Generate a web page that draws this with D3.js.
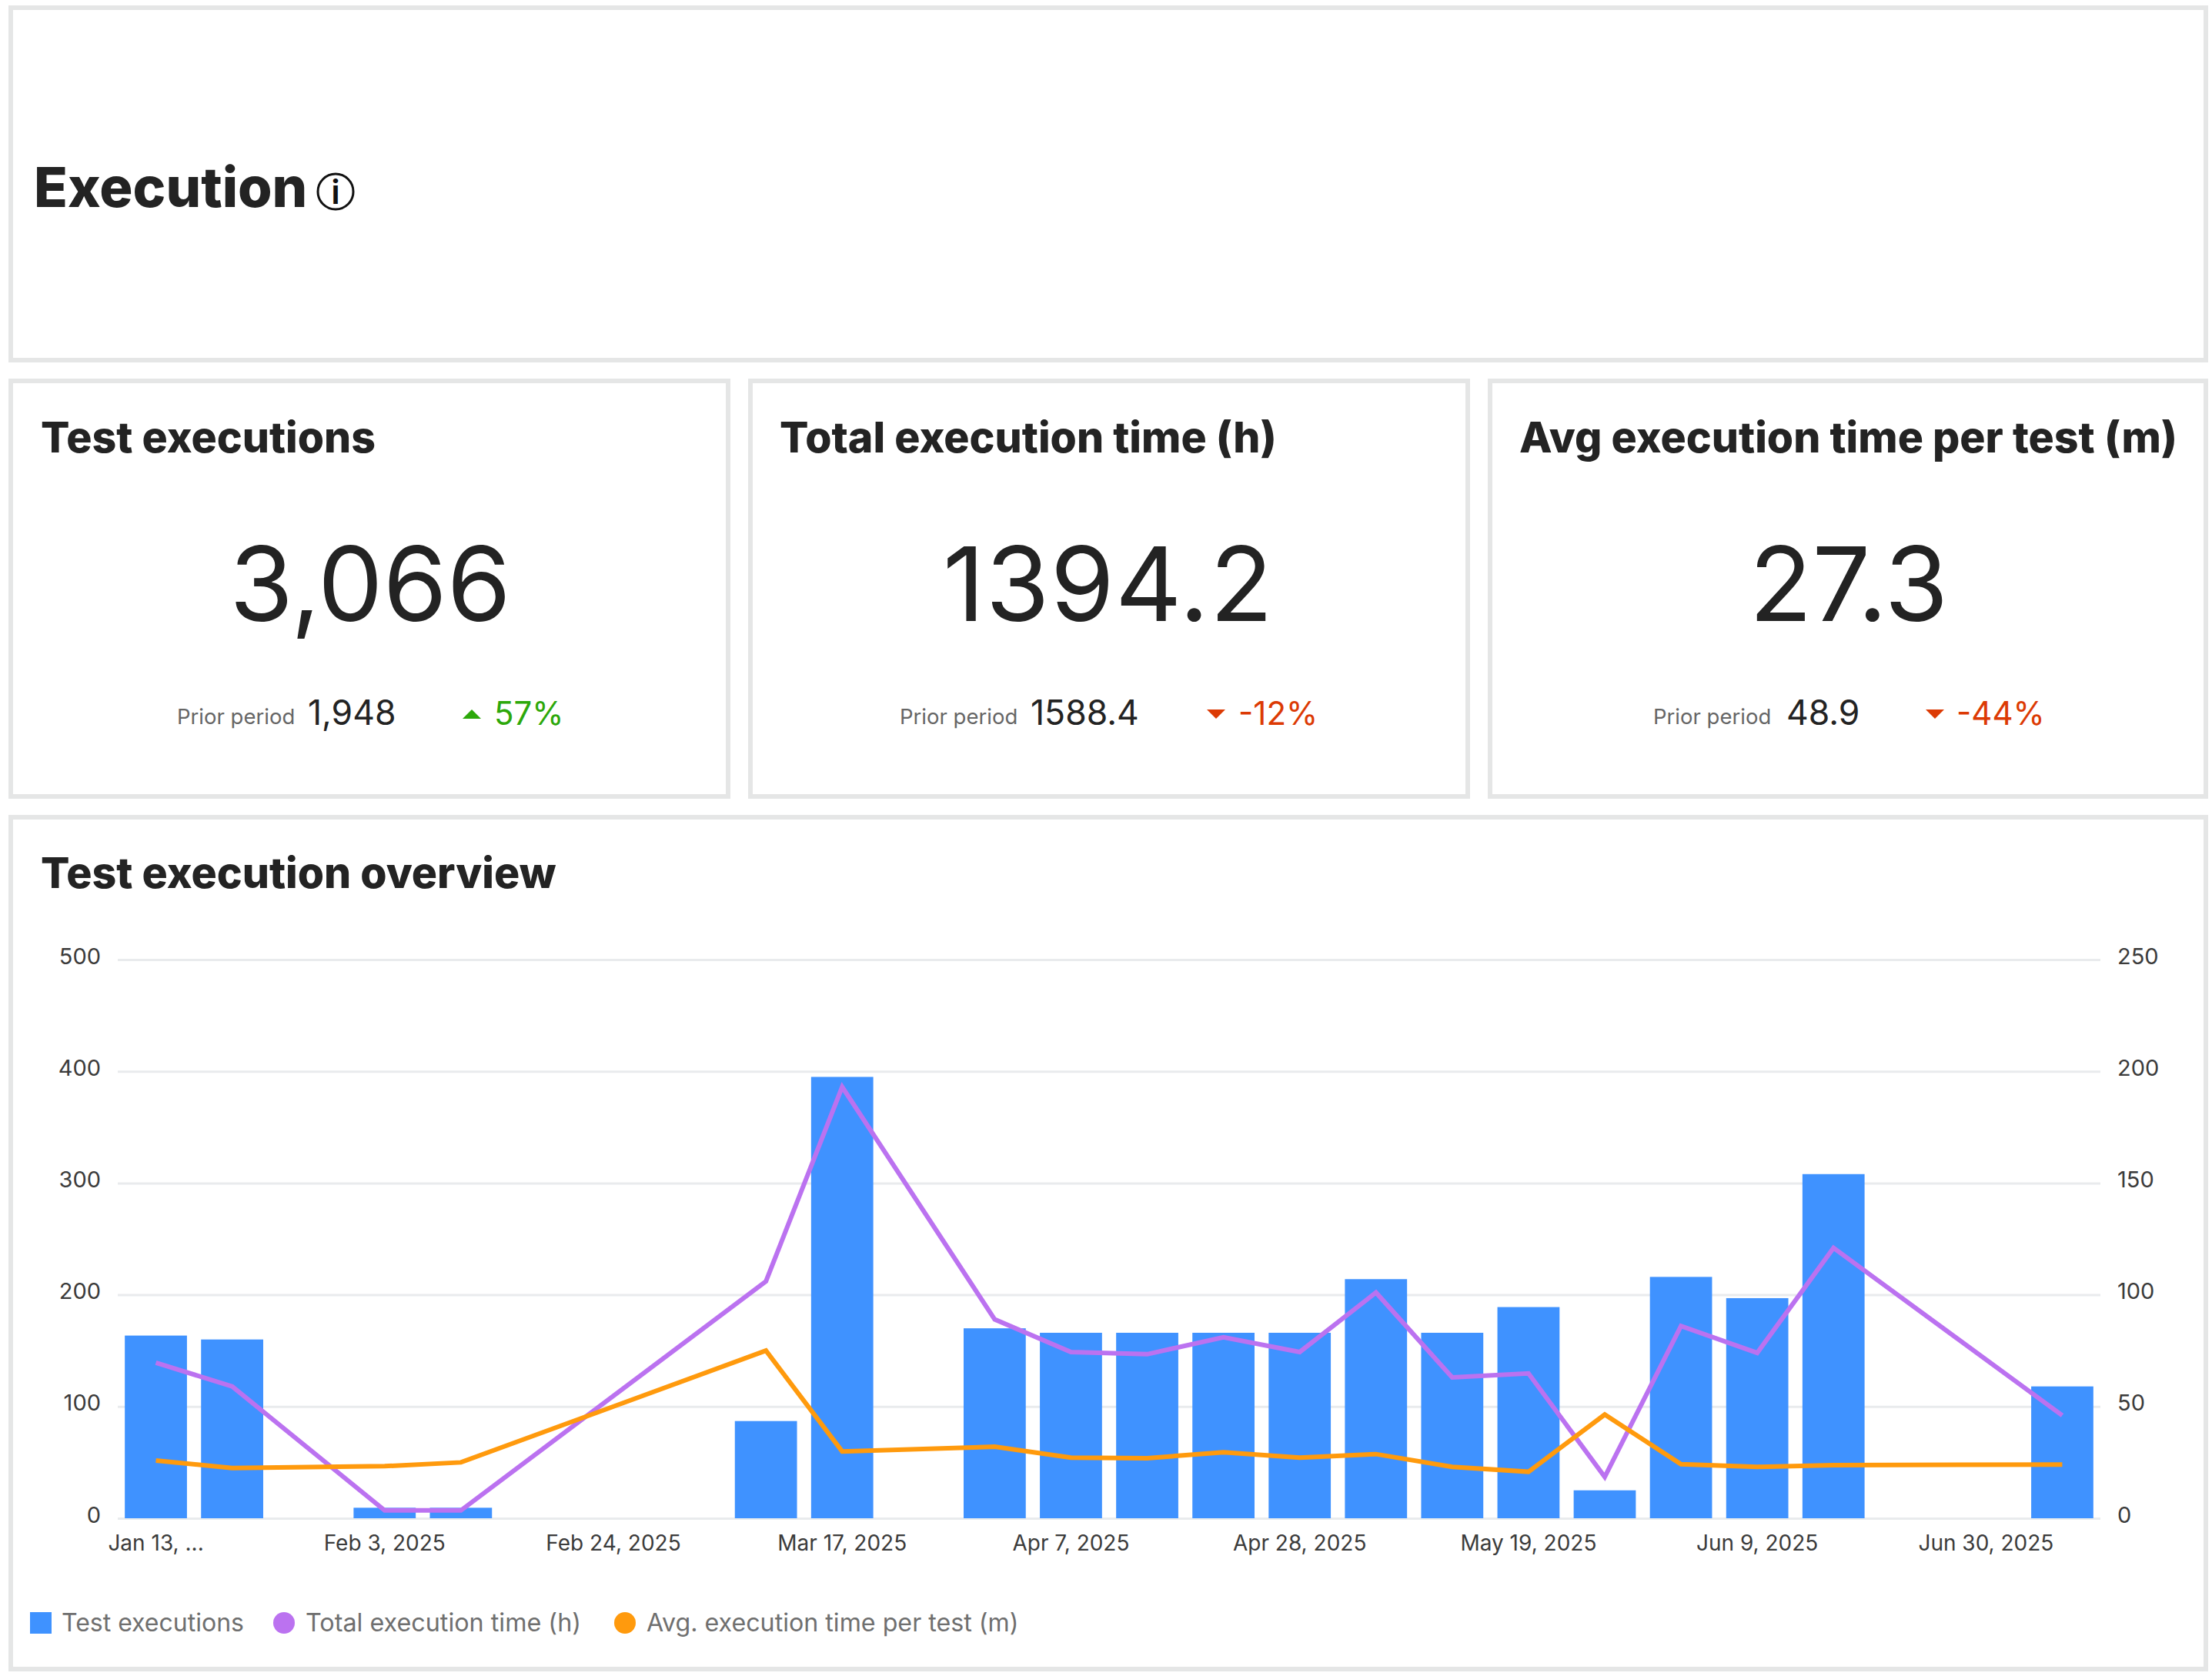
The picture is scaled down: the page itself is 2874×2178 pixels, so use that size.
<!DOCTYPE html>
<html><head><meta charset="utf-8">
<script src="https://cdn.jsdelivr.net/npm/d3@7"></script>
<style>html,body{margin:0;padding:0;background:#fff}svg{display:block}text{font-family:Inter,"Open Sans",sans-serif}</style>
</head><body><svg id="c" width="2874" height="2178"></svg>
<script>
const weeks=["Jan 13, 2025","Jan 20, 2025","Jan 27, 2025","Feb 3, 2025","Feb 10, 2025","Feb 17, 2025","Feb 24, 2025","Mar 3, 2025","Mar 10, 2025","Mar 17, 2025","Mar 24, 2025","Mar 31, 2025","Apr 7, 2025","Apr 14, 2025","Apr 21, 2025","Apr 28, 2025","May 5, 2025","May 12, 2025","May 19, 2025","May 26, 2025","Jun 2, 2025","Jun 9, 2025","Jun 16, 2025","Jun 23, 2025","Jun 30, 2025","Jul 7, 2025"];
const executions=[163.5,160,null,9.4,9.4,null,null,null,87,395,null,170,166,166,166,166,214,166,189,25,216,197,308,null,null,118];
const totalTime=[69.6,59,null,3.5,3.5,null,null,null,106,193,null,89,74.4,73.4,81,74.4,101,63,64.8,18.5,86,74,121,null,null,46];
const avgTime=[25.8,22.5,null,23.3,25,null,null,null,75,29.9,null,32,27.1,26.9,29.5,27.1,28.7,23,20.8,46.4,24.2,23,23.8,null,null,24];
const xTickLabels=[["Jan 13, 2025","Jan 13, ..."],["Feb 3, 2025","Feb 3, 2025"],["Feb 24, 2025","Feb 24, 2025"],["Mar 17, 2025","Mar 17, 2025"],["Apr 7, 2025","Apr 7, 2025"],["Apr 28, 2025","Apr 28, 2025"],["May 19, 2025","May 19, 2025"],["Jun 9, 2025","Jun 9, 2025"],["Jun 30, 2025","Jun 30, 2025"]];
const leftTicks=[0,100,200,300,400,500];
const rightTicks=[0,50,100,150,200,250];
const kpiNames=["Test executions","Total execution time (h)","Avg execution time per test (m)"];
const kpiValues=["3,066","1394.2","27.3"];
const kpiPrior=["1,948","1588.4","48.9"];
const kpiDelta=["57%","-12%","-44%"];
const legendNames=["Test executions","Total execution time (h)","Avg. execution time per test (m)"];

const svg=d3.select("#c");
const ink="#232323",borderC="#e5e6e6",gridC="#e9ebed";
const cBlue="#3f92ff",cPurple="#bb72f0",cOrange="#ff9a0d",cUp="#2ca80a",cDown="#dc3a04";
function card(x0,y0,x1,y1){svg.append("rect").attr("x",x0+3).attr("y",y0+3).attr("width",x1-x0-6).attr("height",y1-y0-6).attr("fill","#fff").attr("stroke",borderC).attr("stroke-width",6);}
card(11,7,2869,471);
[[11,949],[972,1910],[1933,2869]].forEach(([a,b])=>card(a,492,b,1038));
card(11,1059,2869,2172);

svg.append("text").attr("x",44).attr("y",269).attr("font-size",72).attr("font-weight",800).attr("fill",ink).text("Execution");
const info=svg.append("g").attr("transform","translate(436,249)");
info.append("circle").attr("r",23).attr("fill","none").attr("stroke","#111").attr("stroke-width",3);
info.append("text").attr("text-anchor","middle").attr("y",16).attr("font-size",44).attr("font-weight",600).attr("fill","#111").text("i");

const valueTracking=[0,1.2,0];
const cards=[{x:53,c:481,lab:230,pv:400,tri:613,d:642},{x:1013,c:1440,lab:1169,pv:1339,tri:1580,d:1609},{x:1974,c:2402,lab:2148,pv:2321,tri:2514,d:2542}];
cards.forEach((k,i)=>{
 svg.append("text").attr("x",k.x).attr("y",588).attr("font-size",55.4).attr("font-weight",800).attr("fill",ink).text(kpiNames[i]);
 svg.append("text").attr("x",k.c).attr("y",807).attr("text-anchor","middle").attr("font-size",134).attr("font-weight",400).attr("letter-spacing",valueTracking[i]).attr("fill",ink).text(kpiValues[i]);
 svg.append("text").attr("x",k.lab).attr("y",941).attr("font-size",27.5).attr("fill","#666").text("Prior period");
 svg.append("text").attr("x",k.pv).attr("y",942).attr("font-size",44.5).attr("fill",ink).text(kpiPrior[i]);
 const up=i===0,col=up?cUp:cDown,ty=928;
 svg.append("path").attr("d",up?`M${k.tri-12},${ty+6}L${k.tri+12},${ty+6}L${k.tri},${ty-6}Z`:`M${k.tri-12},${ty-6}L${k.tri+12},${ty-6}L${k.tri},${ty+6}Z`).attr("fill",col);
 svg.append("text").attr("x",k.d).attr("y",942).attr("font-size",42).attr("fill",col).text(kpiDelta[i]);
});

svg.append("text").attr("x",53).attr("y",1154).attr("font-size",55.4).attr("font-weight",800).attr("fill",ink).text("Test execution overview");

const x=d3.scaleBand().domain(weeks).range([153,2729]).paddingInner(0.185).paddingOuter(0.0925);
const yL=d3.scaleLinear().domain([0,500]).range([1973,1247]);
const yR=d3.scaleLinear().domain([0,250]).range([1973,1247]);

const gridG=svg.append("g").attr("transform","translate(153,0)")
 .call(d3.axisLeft(yL).tickValues(leftTicks).tickSize(-2576).tickPadding(22).tickFormat(d3.format("d")));
gridG.select(".domain").remove();
gridG.selectAll("line").attr("stroke",gridC).attr("stroke-width",3);
gridG.selectAll("text").attr("font-size",29).attr("fill","#3b3b3b").attr("dy","0").attr("y",5);
const rG=svg.append("g").attr("transform","translate(2729,0)")
 .call(d3.axisRight(yR).tickValues(rightTicks).tickSize(0).tickPadding(22).tickFormat(d3.format("d")));
rG.select(".domain").remove();
rG.selectAll("text").attr("font-size",29).attr("fill","#3b3b3b").attr("dy","0").attr("y",5);

const labelMap=new Map(xTickLabels);
const xG=svg.append("g").attr("transform","translate(0,1973)")
 .call(d3.axisBottom(x).tickValues(xTickLabels.map(d=>d[0])).tickSize(0).tickPadding(22).tickFormat(d=>labelMap.get(d)));
xG.select(".domain").remove();
xG.selectAll("text").attr("font-size",28).attr("fill","#3b3b3b");

const rows=weeks.map((w,i)=>({w,e:executions[i],t:totalTime[i],a:avgTime[i]}));
svg.append("g").selectAll("rect").data(rows.filter(d=>d.e!=null)).join("rect")
 .attr("x",d=>x(d.w)).attr("width",x.bandwidth()).attr("y",d=>yL(d.e)).attr("height",d=>yL(0)-yL(d.e)).attr("fill",cBlue);
const line=k=>d3.line().x(d=>x(d.w)+x.bandwidth()/2).y(d=>yR(d[k]));
const lineRows=rows.filter(d=>d.t!=null);
svg.append("path").datum(lineRows).attr("d",line("t")).attr("fill","none").attr("stroke",cPurple).attr("stroke-width",6);
svg.append("path").datum(lineRows).attr("d",line("a")).attr("fill","none").attr("stroke",cOrange).attr("stroke-width",6);

const ly=2109;
svg.append("rect").attr("x",39).attr("y",ly-14).attr("width",28).attr("height",28).attr("fill",cBlue);
svg.append("circle").attr("cx",369).attr("cy",ly).attr("r",14).attr("fill",cPurple);
svg.append("circle").attr("cx",812).attr("cy",ly).attr("r",14).attr("fill",cOrange);
[[80,0,32],[397,1,32.3],[840,2,32.2]].forEach(([lx,i,fs])=>svg.append("text").attr("x",lx).attr("y",ly+11).attr("font-size",fs).attr("fill","#6f6f6f").text(legendNames[i]));
</script></body></html>
